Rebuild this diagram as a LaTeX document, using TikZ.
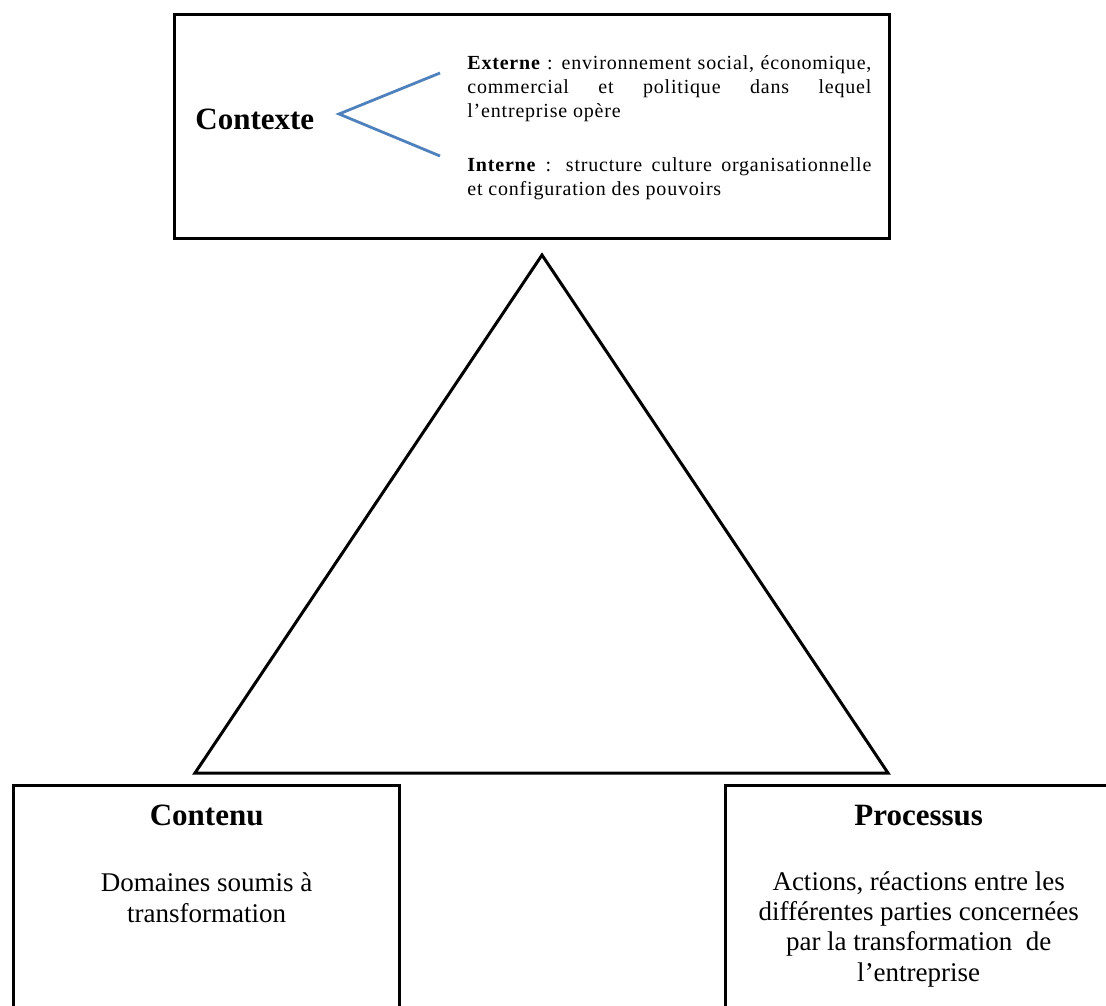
\documentclass[tikz,border=0pt]{standalone}
\usepackage{fontspec}
\setmainfont{Liberation Serif}
\newfontfamily\ctxfont[LetterSpace=4]{Liberation Serif}
\usepackage{tikz}
\usetikzlibrary{positioning, calc}

\definecolor{bracecolor}{RGB}{79,129,189}
\hfuzz=20pt

\begin{document}
\begin{tikzpicture}[x=0.5pt, y=-0.5pt,
    frame/.style={draw=black, line width=1.7pt, inner sep=0pt},
    title/.style={font=\fontsize{15.5}{18}\selectfont\bfseries, inner sep=0pt},
    body/.style={font=\fontsize{13.5}{15.15}\selectfont, align=center, inner sep=0pt},
    ctxtext/.style={font=\ctxfont\fontsize{10}{12}\selectfont, text width=202pt, align=justify, inner sep=0pt}]
    \clip (0,0) rectangle (1106,1005);

    % Contexte
    \node[frame, anchor=north west, minimum width=357.5pt, minimum height=112pt] (ctxbox) at (173,13) {};
    \node[title, anchor=base west] (ctx) at (195,130) {Contexte};
    \node[ctxtext, anchor=base west] (ext) at (467,70) {\textbf{Externe} : environnement social, économique,\linebreak commercial et politique dans lequel\linebreak l’entreprise opère};
    \node[ctxtext, anchor=base west] (int) at (467,172) {\textbf{Interne} : structure culture organisationnelle\linebreak et configuration des pouvoirs};
    \coordinate (brace tip) at (339,114);
    \coordinate (brace top) at (440,73);
    \coordinate (brace bot) at (440,156);
    \draw[bracecolor, line width=1.4pt] (brace top) -- (brace tip) -- (brace bot);

    % triangle
    \coordinate (apex) at (542,255);
    \coordinate (base left) at (195,773);
    \coordinate (base right) at (888,773);
    \draw[line width=1.5pt] (apex) -- (base left) -- (base right) -- cycle;

    % Contenu
    \node[frame, anchor=north west, minimum width=193pt, minimum height=150pt] (cntbox) at (12,784) {};
    \node[title, anchor=base] (cnt) at ([yshift=-20.5pt]cntbox.north) {Contenu};
    \node[body, anchor=base] (cntbody) at ([yshift=-69pt]cntbox.north) {Domaines soumis à\\transformation};

    % Processus
    \node[frame, anchor=north west, minimum width=193pt, minimum height=150pt] (procbox) at (724,784) {};
    \node[title, anchor=base] (proc) at ([yshift=-20.5pt]procbox.north) {Processus};
    \node[body, anchor=base] (procbody) at ([yshift=-98.5pt]procbox.north) {Actions, réactions entre les\\différentes parties concernées\\par la transformation~ de\\l’entreprise};
\end{tikzpicture}
\end{document}
